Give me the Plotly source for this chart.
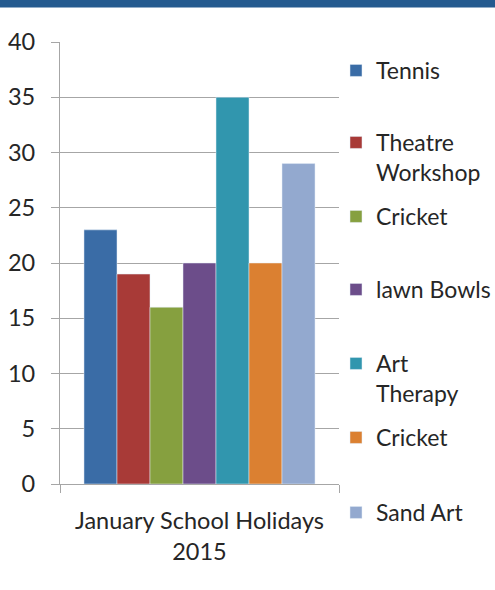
import plotly.graph_objects as go

category = ["January School Holidays<br>2015"]
series_names = ["Tennis", "Theatre<br>Workshop", "Cricket", "lawn Bowls", "Art<br>Therapy", "Cricket", "Sand Art"]
series_values = [23, 19, 16, 20, 35, 20, 29]
series_colors = ["#3A6CA6", "#A83A37", "#86A03F", "#6C4D8A", "#3196AE", "#DB8031", "#93A9CF"]
y_ticks = [0, 5, 10, 15, 20, 25, 30, 35, 40]

FONT = "Lato"
FS = 23.5
LFS = 23
TXT = "#262626"
W, H = 495, 590
ML, MR, MT, MB = 60, 156, 42, 106
PH = H - MT - MB
PW = W - ML - MR

# legend first-line centres (pixels from top)
leg_px = [71, 143, 217, 290, 364, 438, 513]

fig = go.Figure()
layout_legends = {}
for i, (n, v, c) in enumerate(zip(series_names, series_values, series_colors)):
    key = "legend" if i == 0 else f"legend{i+1}"
    fig.add_trace(go.Bar(x=category, y=[v], name=n, marker=dict(color=c),
                         legend=key))
    ypx = leg_px[i] - 22
    layout_legends[key] = dict(
        xref="container", yref="container",
        x=336 / W, xanchor="left",
        y=1 - ypx / H, yanchor="top",
        valign="top",
        font=dict(family=FONT, size=LFS, color=TXT),
        bgcolor="rgba(0,0,0,0)", borderwidth=0,
    )

fig.update_layout(
    width=W, height=H,
    margin=dict(l=ML, r=MR, t=MT, b=MB, autoexpand=False),
    paper_bgcolor="white", plot_bgcolor="white",
    barmode="group", bargap=0.172, bargroupgap=0,
    showlegend=True,
    font=dict(family=FONT, size=FS, color=TXT),
    shapes=[dict(type="rect", xref="paper", yref="paper",
                 x0=-ML / PW, x1=1 + MR / PW,
                 y0=1 + (MT - 7.5) / PH, y1=1 + MT / PH,
                 fillcolor="#245A8F", line=dict(width=0), layer="above")],
    **layout_legends,
)
fig.update_yaxes(range=[0, 40], tickvals=y_ticks, ticks="outside", ticklen=8,
                 tickcolor="#A6A6A6", tickwidth=1.3,
                 showgrid=True, gridcolor="#A6A6A6", gridwidth=1.3,
                 showline=True, linecolor="#A6A6A6", linewidth=1.3,
                 zeroline=False, ticklabelstandoff=11, automargin=False,
                 tickfont=dict(family=FONT, size=FS, color=TXT))
fig.update_xaxes(ticks="outside", tickson="boundaries", ticklen=8,
                 tickcolor="#A6A6A6", tickwidth=1.3, tickangle=0,
                 showline=True, linecolor="#A6A6A6", linewidth=1.3,
                 ticklabelstandoff=16, automargin=False,
                 tickfont=dict(family=FONT, size=FS, color=TXT))

fig.write_html("out.html", config={"displayModeBar": False},
               post_script="document.body.style.margin='0';document.body.style.overflow='hidden';")
